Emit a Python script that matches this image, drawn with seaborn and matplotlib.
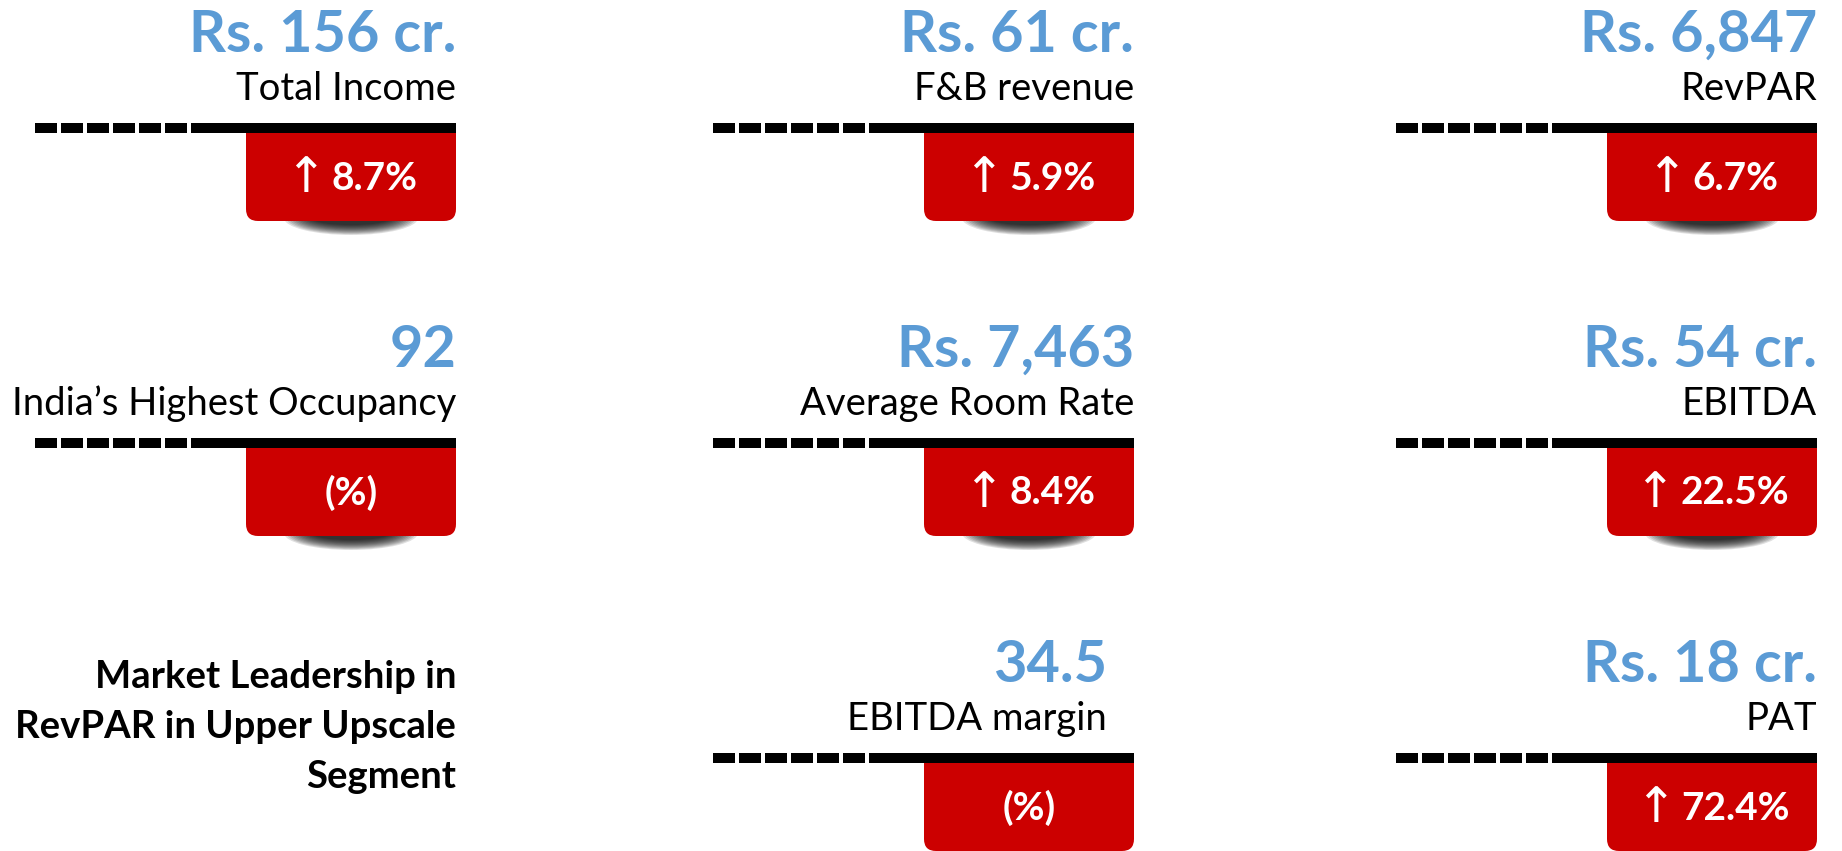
"""Key performance highlights tiles."""

import matplotlib

matplotlib.use("Agg")
import matplotlib.pyplot as plt
import seaborn as sns
from matplotlib.offsetbox import AnnotationBbox, HPacker, TextArea
from matplotlib.patches import Ellipse, FancyBboxPatch, Rectangle

# ---- data -------------------------------------------------------------
metric_values = ["Rs. 156 cr.", "Rs. 61 cr.", "Rs. 6,847",
                 "92", "Rs. 7,463", "Rs. 54 cr.",
                 None, "34.5", "Rs. 18 cr."]
metric_labels = ["Total Income", "F&B revenue", "RevPAR",
                 "India’s Highest Occupancy", "Average Room Rate", "EBITDA",
                 None, "EBITDA margin", "PAT"]
growth_pct = [8.7, 5.9, 6.7,
              None, 8.4, 22.5,
              None, None, 72.4]
highlight_lines = ["Market Leadership in", "RevPAR in Upper Upscale", "Segment"]

# ---- style / layout ---------------------------------------------------
BLUE = "#5B9BD5"
RED = "#CC0000"
W, H = 1842, 851
col_right = [456, 1134, 1817]
row_line = [123, 438, 753]      # top edge of the divider line (px)
text_inset = [0, 0, 0, 0, 0, 0, 0, 27, 0]
highlight_baselines = [688, 738, 788]

sns.set_theme(style="white")
plt.rcParams["font.family"] = ["Lato", "DejaVu Sans"]

fig = plt.figure(figsize=(W / 100, H / 100), dpi=100)
ax = fig.add_axes([0, 0, 1, 1])
ax.set_xlim(0, W)
ax.set_ylim(H, 0)
ax.axis("off")


def draw_divider(right, top):
    left = right - 421
    for i in range(6):
        ax.add_patch(Rectangle((left + i * 26, top), 22.3, 10, color="black", lw=0, zorder=4))
    ax.add_patch(Rectangle((left + 156, top), 265, 10, color="black", lw=0, zorder=4))


def draw_badge(right, top, pct):
    x0, y0, bw, bh = right - 210, top + 8, 210, 90
    cx = x0 + bw / 2
    # soft shadow under the badge
    for k in range(12):
        ax.add_patch(Ellipse((cx, y0 + bh - 3), 134 - k * 5, 34 - k * 1.8,
                             color="black", alpha=0.12, lw=0, zorder=1))
    ax.add_patch(FancyBboxPatch((x0 + 12, y0 + 12), bw - 24, bh - 24,
                                boxstyle="round,pad=12", color=RED, lw=0, zorder=2))
    ax.add_patch(Rectangle((x0, y0), bw, 30, color=RED, lw=0, zorder=2))
    num_props = dict(color="white", fontsize=28, fontweight="bold", family="Lato")
    if pct is None:
        parts = [TextArea("(%)", textprops=num_props)]
    else:
        arrow_props = dict(color="white", fontsize=35, family="DejaVu Sans")
        parts = [TextArea("↑", textprops=arrow_props),
                 TextArea(f"{pct}%", textprops=num_props)]
    box = HPacker(children=parts, sep=4, align="center")
    ab = AnnotationBbox(box, (cx, top + 55), frameon=False,
                        box_alignment=(0.5, 0.5), pad=0, zorder=5)
    ax.add_artist(ab)


for i, value in enumerate(metric_values):
    r, c = divmod(i, 3)
    right = col_right[c]
    top = row_line[r]
    if value is None:
        for line, base in zip(highlight_lines, highlight_baselines):
            ax.text(right, base, line, fontsize=27.5, fontweight="bold",
                    color="black", ha="right", va="baseline")
        continue
    tx = right - text_inset[i]
    ax.text(tx, top - 71, value, fontsize=41.5, fontweight="bold", color=BLUE,
            ha="right", va="baseline")
    ax.text(tx, top - 23, metric_labels[i], fontsize=27.5, color="black",
            ha="right", va="baseline")
    draw_divider(right, top)
    draw_badge(right, top, growth_pct[i])

fig.savefig("out.png", dpi=100)
plt.close(fig)
